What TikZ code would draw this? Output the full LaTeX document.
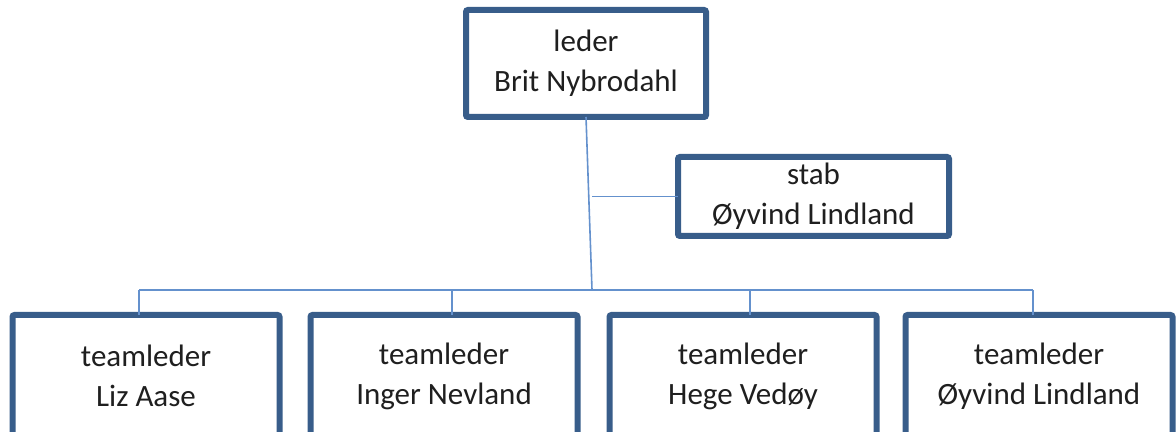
\documentclass[tikz,border=0pt]{standalone}
\usepackage{fontspec}
\setmainfont{Carlito}
\definecolor{boxblue}{RGB}{56,93,138}
\definecolor{linkblue}{RGB}{100,145,205}
\tikzset{
	orgbox/.style={draw=boxblue, line width=3pt, rounded corners=1pt, fill=white, align=center, inner sep=0pt, outer sep=0pt, text=black!88, font=\fontsize{15.5}{20}\selectfont},
	chiefbox/.style={orgbox, minimum width=120pt, minimum height=53.5pt},
	staffbox/.style={orgbox, minimum width=135.5pt, minimum height=39.5pt},
	teambox/.style={orgbox, minimum width=133.5pt, minimum height=61pt},
	link/.style={draw=linkblue, line width=0.8pt},
}
\begin{document}
\begin{tikzpicture}[x=0.5pt, y=-0.5pt]
			%%%%% START %%%%%
			
			\useasboundingbox (0, 0) rectangle (1176, 432);
			\clip (0, 0) rectangle (1176, 432);
			
			\node[chiefbox] (leder) at (586, 63.5) {leder\\Brit Nybrodahl};
			\node[staffbox] (stab) at (813.5, 196.5) {stab\\Øyvind Lindland};
			
			\node[teambox] (team1) at (146, 376) {teamleder\\Liz Aase};
			\node[teambox] (team2) at (444, 376) {teamleder\\Inger Nevland};
			\node[teambox] (team3) at (743, 376) {teamleder\\Hege Vedøy};
			\node[teambox] (team4) at (1039, 376) {teamleder\\Øyvind Lindland};
			
			\coordinate (hub) at (592, 290);
			\coordinate (drop1) at (139, 290);
			\coordinate (drop2) at (452, 290);
			\coordinate (drop3) at (750, 290);
			\coordinate (drop4) at (1033, 290);
			
			\draw[link] (leder.south) -- (hub);
			\draw[link] (stab.west) -- (stab.west -| hub);
			\draw[link] (drop1) -- (drop4);
			
			\draw[link] (drop1) -- (drop1 |- team1.north);
			\draw[link] (drop2) -- (drop2 |- team2.north);
			\draw[link] (drop3) -- (drop3 |- team3.north);
			\draw[link] (drop4) -- (drop4 |- team4.north);
			
			%%%%% END %%%%%
\end{tikzpicture}
\end{document}
